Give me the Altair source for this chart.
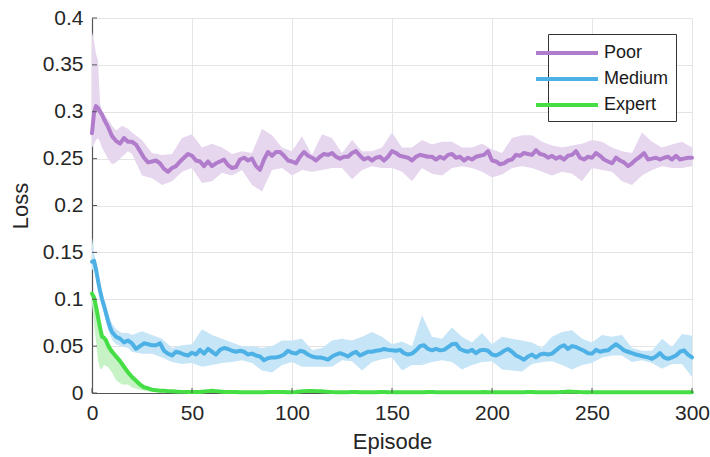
import altair as alt
import pandas as pd

# ---------------- data ----------------
EPISODES = list(range(0, 11)) + list(range(12, 301, 2))

POOR_MEAN = (
    [0.277, 0.299, 0.306, 0.304, 0.300, 0.297, 0.292, 0.288, 0.284, 0.279, 0.274]
    + [0.269, 0.266, 0.272, 0.268, 0.268, 0.265, 0.258, 0.251, 0.246, 0.247,
       0.248, 0.245, 0.239, 0.236, 0.240, 0.242, 0.247, 0.251, 0.255, 0.253,
       0.248, 0.247, 0.242, 0.247, 0.242, 0.245, 0.247, 0.249, 0.243, 0.240,
       0.241, 0.249, 0.251, 0.248, 0.250, 0.242, 0.238, 0.249, 0.257, 0.253,
       0.257, 0.257, 0.253, 0.248, 0.247]
    + [0.245, 0.252, 0.257, 0.253, 0.251, 0.248, 0.252, 0.255, 0.254, 0.256,
       0.252, 0.250, 0.252, 0.252, 0.256, 0.258, 0.253, 0.249, 0.251, 0.248,
       0.251, 0.252, 0.248, 0.252, 0.258, 0.256, 0.253, 0.252, 0.251, 0.248,
       0.252, 0.254, 0.253, 0.252, 0.252, 0.249, 0.252, 0.250, 0.254, 0.255,
       0.251, 0.252, 0.248, 0.251, 0.249, 0.252, 0.253, 0.254, 0.258, 0.248]
    + [0.247, 0.244, 0.245, 0.248, 0.249, 0.254, 0.253, 0.256, 0.255, 0.254,
       0.259, 0.255, 0.254, 0.251, 0.253, 0.250, 0.252, 0.249, 0.253, 0.254,
       0.258, 0.251, 0.249, 0.252, 0.251, 0.256, 0.253, 0.249, 0.247, 0.245,
       0.251, 0.248, 0.246, 0.242, 0.245, 0.249, 0.252, 0.256, 0.249, 0.250,
       0.251, 0.249, 0.251, 0.252, 0.249, 0.253, 0.249, 0.250, 0.251, 0.251]
)

MEDIUM_MEAN = (
    [0.140, 0.141, 0.132, 0.120, 0.109, 0.100, 0.093, 0.085, 0.077, 0.070, 0.065]
    + [0.060, 0.058, 0.054, 0.056, 0.053, 0.047, 0.050, 0.053, 0.052, 0.051,
       0.051, 0.053, 0.045, 0.042, 0.040, 0.044, 0.043, 0.041, 0.040, 0.043,
       0.041, 0.046, 0.042, 0.047, 0.044, 0.041, 0.046, 0.048, 0.047, 0.045,
       0.044, 0.045, 0.044, 0.041, 0.042, 0.040, 0.039, 0.035, 0.037, 0.038,
       0.038, 0.039, 0.041, 0.045, 0.043]
    + [0.042, 0.045, 0.044, 0.041, 0.039, 0.038, 0.038, 0.037, 0.0355, 0.039,
       0.041, 0.0425, 0.041, 0.039, 0.042, 0.044, 0.040, 0.042, 0.044, 0.044,
       0.045, 0.0455, 0.047, 0.046, 0.0455, 0.045, 0.046, 0.0425, 0.041, 0.042,
       0.0455, 0.050, 0.051, 0.047, 0.0455, 0.047, 0.0455, 0.046, 0.049, 0.052,
       0.0525, 0.047, 0.045, 0.044, 0.046, 0.0425, 0.0455, 0.046, 0.045, 0.041]
    + [0.040, 0.042, 0.045, 0.047, 0.044, 0.040, 0.038, 0.0355, 0.039, 0.041,
       0.038, 0.041, 0.042, 0.041, 0.042, 0.0455, 0.049, 0.051, 0.047, 0.050,
       0.049, 0.047, 0.045, 0.0425, 0.042, 0.046, 0.044, 0.045, 0.0455, 0.049,
       0.052, 0.049, 0.0455, 0.044, 0.0425, 0.041, 0.040, 0.039, 0.038, 0.0365,
       0.039, 0.0425, 0.038, 0.0365, 0.038, 0.040, 0.044, 0.0455, 0.041, 0.038]
)

EXPERT_MEAN = (
    [0.106, 0.102, 0.092, 0.081, 0.070, 0.060, 0.059, 0.056, 0.051, 0.047, 0.044]
    + [0.039, 0.034, 0.028, 0.022, 0.017, 0.013, 0.009, 0.006, 0.005, 0.0035,
       0.003, 0.0025, 0.0025, 0.002, 0.0018, 0.0015, 0.0013, 0.0012, 0.001, 0.001,
       0.001, 0.001, 0.0015, 0.002, 0.0025, 0.002, 0.0015, 0.001, 0.001, 0.001,
       0.001, 0.0008, 0.0008, 0.0008, 0.0008, 0.0008, 0.0008, 0.0008, 0.001, 0.001,
       0.001, 0.001, 0.001, 0.0008, 0.0008]
    + [0.001, 0.0015, 0.002, 0.0022, 0.0022, 0.002, 0.0018, 0.0015, 0.0012, 0.001,
       0.0009, 0.0008, 0.0008, 0.0009, 0.001, 0.001, 0.0009, 0.0008, 0.0008, 0.0008,
       0.0009, 0.001, 0.001, 0.0009, 0.0008, 0.0008, 0.0008, 0.0009, 0.0009, 0.0008,
       0.0008, 0.0008, 0.0009, 0.001, 0.001, 0.0009, 0.0008, 0.0008, 0.0008, 0.0008]
    + [0.0008, 0.0009, 0.0009, 0.0008, 0.0008, 0.0008, 0.0009, 0.001, 0.0009, 0.0008,
       0.0008, 0.0008, 0.0009, 0.0009, 0.0008, 0.0008, 0.0008, 0.0009, 0.001, 0.001,
       0.0009, 0.0008, 0.0008, 0.0008, 0.0008, 0.0009, 0.001, 0.0012, 0.0015, 0.0014,
       0.0012, 0.001, 0.0009, 0.0008, 0.0008, 0.0008, 0.0008, 0.0009, 0.0009, 0.0008,
       0.0008, 0.0008, 0.0008, 0.0009, 0.0009, 0.0008, 0.0008, 0.0008, 0.0009, 0.0009,
       0.0008, 0.0008, 0.0008, 0.0008, 0.0008, 0.0008, 0.0008, 0.0008, 0.0008, 0.0008]
)

BAND_EPISODES = [0, 1, 2, 3, 4, 5, 6, 8, 10, 12, 15, 18, 20] + list(range(25, 301, 5))

POOR_LO = [0.262, 0.265, 0.270, 0.272, 0.268, 0.262, 0.258, 0.250, 0.244, 0.246, 0.252, 0.258, 0.255,
           0.232, 0.229, 0.222, 0.226, 0.236, 0.240, 0.224, 0.226, 0.235, 0.232,
           0.238, 0.222, 0.215, 0.238, 0.240, 0.232, 0.238, 0.236, 0.238, 0.240,
           0.240, 0.228, 0.238, 0.242, 0.240, 0.240, 0.236, 0.226, 0.240, 0.234,
           0.232, 0.240, 0.242, 0.240, 0.236, 0.230, 0.233, 0.240, 0.242, 0.240,
           0.236, 0.232, 0.236, 0.234, 0.226, 0.240, 0.238, 0.236, 0.226, 0.222,
           0.232, 0.238, 0.242, 0.240, 0.240, 0.242]
POOR_HI = [0.385, 0.375, 0.362, 0.355, 0.310, 0.302, 0.298, 0.292, 0.285, 0.280, 0.285, 0.282, 0.278,
           0.270, 0.256, 0.254, 0.255, 0.272, 0.276, 0.262, 0.266, 0.262, 0.255,
           0.258, 0.256, 0.282, 0.275, 0.262, 0.258, 0.274, 0.254, 0.276, 0.272,
           0.256, 0.270, 0.258, 0.258, 0.262, 0.278, 0.262, 0.262, 0.270, 0.265,
           0.268, 0.268, 0.262, 0.262, 0.266, 0.260, 0.256, 0.272, 0.275, 0.275,
           0.268, 0.264, 0.262, 0.264, 0.266, 0.270, 0.268, 0.262, 0.258, 0.256,
           0.278, 0.268, 0.262, 0.265, 0.268, 0.262]

MEDIUM_LO = [0.132, 0.130, 0.125, 0.113, 0.102, 0.093, 0.085, 0.068, 0.057, 0.052, 0.050, 0.048, 0.044,
             0.042, 0.042, 0.038, 0.033, 0.031, 0.032, 0.028, 0.030, 0.032, 0.033,
             0.035, 0.032, 0.024, 0.022, 0.030, 0.033, 0.028, 0.028, 0.028, 0.028,
             0.035, 0.034, 0.024, 0.033, 0.036, 0.038, 0.024, 0.030, 0.030, 0.033,
             0.035, 0.033, 0.025, 0.030, 0.033, 0.034, 0.025, 0.024, 0.023, 0.031,
             0.033, 0.034, 0.030, 0.025, 0.030, 0.032, 0.038, 0.040, 0.040, 0.033,
             0.035, 0.032, 0.026, 0.031, 0.031, 0.017]
MEDIUM_HI = [0.166, 0.150, 0.140, 0.128, 0.117, 0.108, 0.101, 0.086, 0.074, 0.068, 0.064, 0.064, 0.062,
             0.066, 0.062, 0.058, 0.048, 0.051, 0.052, 0.068, 0.062, 0.058, 0.054,
             0.050, 0.050, 0.048, 0.050, 0.056, 0.056, 0.058, 0.046, 0.048, 0.056,
             0.058, 0.056, 0.060, 0.065, 0.060, 0.052, 0.055, 0.050, 0.083, 0.060,
             0.058, 0.070, 0.060, 0.054, 0.064, 0.052, 0.060, 0.058, 0.056, 0.054,
             0.048, 0.060, 0.065, 0.067, 0.058, 0.054, 0.062, 0.060, 0.062, 0.048,
             0.045, 0.045, 0.058, 0.049, 0.063, 0.061]

EXPERT_LO = [0.095, 0.075, 0.055, 0.035, 0.026, 0.026, 0.030, 0.028, 0.022, 0.014, 0.009, 0.009, 0.006,
             0.003, 0.001, 0.001, 0.0008, 0.0005, 0.0005, 0.0005, 0.001, 0.0005, 0.0004,
             0.0004, 0.0004, 0.0004, 0.0004, 0.0004, 0.0004, 0.0008, 0.0008, 0.0008, 0.0004,
             0.0003, 0.0003, 0.0003, 0.0003, 0.0003, 0.0003, 0.0003, 0.0003, 0.0003, 0.0003,
             0.0003, 0.0003, 0.0003, 0.0003, 0.0003, 0.0003, 0.0003, 0.0003, 0.0003, 0.0003,
             0.0003, 0.0003, 0.0003, 0.0003, 0.0003, 0.0003, 0.0003, 0.0003, 0.0005, 0.0003,
             0.0003, 0.0003, 0.0003, 0.0003, 0.0003, 0.0003]
EXPERT_HI = [0.108, 0.104, 0.096, 0.090, 0.078, 0.066, 0.062, 0.056, 0.048, 0.043, 0.035, 0.026, 0.020,
             0.010, 0.005, 0.004, 0.003, 0.002, 0.002, 0.0022, 0.004, 0.0025, 0.0018,
             0.0018, 0.0018, 0.0018, 0.0018, 0.0018, 0.0018, 0.0035, 0.0035, 0.0035, 0.0018,
             0.0016, 0.0017, 0.0016, 0.0018, 0.0017, 0.0016, 0.0016, 0.0018, 0.0016, 0.0016,
             0.0017, 0.0016, 0.0016, 0.0018, 0.0016, 0.0016, 0.0017, 0.0016, 0.0016, 0.0018,
             0.0016, 0.0016, 0.0017, 0.0016, 0.0018, 0.0016, 0.0016, 0.0017, 0.0025, 0.0016,
             0.0016, 0.0017, 0.0016, 0.0016, 0.0016, 0.0016]

SERIES = ["Poor", "Medium", "Expert"]
LINE_COLORS = ["#B07CCB", "#4DB1E6", "#45DE45"]
BAND_COLORS = ["#E6D7EF", "#C6E5F7", "#C6F2C6"]
X_TICKS = [0, 50, 100, 150, 200, 250, 300]
Y_TICKS = [0, 0.05, 0.1, 0.15, 0.2, 0.25, 0.3, 0.35, 0.4]

# ---------------- tables ----------------
means = {"Poor": POOR_MEAN, "Medium": MEDIUM_MEAN, "Expert": EXPERT_MEAN}
los = {"Poor": POOR_LO, "Medium": MEDIUM_LO, "Expert": EXPERT_LO}
his = {"Poor": POOR_HI, "Medium": MEDIUM_HI, "Expert": EXPERT_HI}

line_rows = []
for s in SERIES:
    assert len(means[s]) == len(EPISODES), s
    for e, v in zip(EPISODES, means[s]):
        line_rows.append({"episode": e, "loss": v, "series": s})
line_df = pd.DataFrame(line_rows)

W, H = 600, 375
x_scale = alt.Scale(domain=[0, 300], nice=False, zero=False)
y_scale = alt.Scale(domain=[0, 0.4], nice=False)

x_axis = alt.Axis(values=X_TICKS, title="Episode", format="d", titlePadding=8, labelFlush=False)
y_axis = alt.Axis(values=Y_TICKS, title="Loss", format="~g", titlePadding=10, labelFlush=False)

band_layers = []
for s, bc in zip(SERIES, BAND_COLORS):
    assert len(los[s]) == len(BAND_EPISODES) and len(his[s]) == len(BAND_EPISODES), s
    bdf = pd.DataFrame({"episode": BAND_EPISODES, "lo": los[s], "hi": his[s]})
    band_layers.append(
        alt.Chart(bdf).mark_area(color=bc, opacity=1, interpolate="linear").encode(
            x=alt.X("episode:Q", scale=x_scale, axis=x_axis),
            y=alt.Y("lo:Q", scale=y_scale, axis=y_axis),
            y2="hi:Q",
        )
    )

lines = alt.Chart(line_df).mark_line(strokeWidth=4, strokeJoin="round", strokeCap="round").encode(
    x=alt.X("episode:Q", scale=x_scale, axis=x_axis),
    y=alt.Y("loss:Q", scale=y_scale, axis=y_axis),
    color=alt.Color("series:N", scale=alt.Scale(domain=SERIES, range=LINE_COLORS),
                    sort=SERIES,
                    legend=alt.Legend(title=None, orient="top-right", offset=16,
                                      symbolType="M-3.1,0H3.1", symbolSize=400, symbolStrokeWidth=4,
                                      labelFontSize=18, labelFont="Liberation Sans",
                                      labelColor="#1a1a1a", strokeColor="#333333",
                                      fillColor="white", padding=7, rowPadding=5,
                                      labelOffset=25)),
    order=alt.Order("episode:Q"),
)

xticks = alt.Chart(pd.DataFrame({"episode": X_TICKS})).mark_rule(color="#555555", strokeWidth=1).encode(
    x=alt.X("episode:Q", scale=x_scale), y=alt.value(H), y2=alt.value(H - 5))
yticks = alt.Chart(pd.DataFrame({"loss": Y_TICKS})).mark_rule(color="#555555", strokeWidth=1).encode(
    y=alt.Y("loss:Q", scale=y_scale), x=alt.value(0), x2=alt.value(5))

chart = alt.layer(*band_layers, lines, xticks, yticks).properties(
    width=W, height=H,
    autosize=alt.AutoSizeParams(type="none"),
    padding={"left": 92, "top": 18, "right": 18, "bottom": 64},
).configure_view(stroke=None).configure_axis(
    grid=True, gridColor="#E4E4E4", gridWidth=1,
    domainColor="#555555", domainWidth=1.2, ticks=False,
    labelFont="Liberation Sans", labelFontSize=21, labelColor="#262626", labelPadding=9,
    titleFont="Liberation Sans", titleFontSize=22, titleColor="#262626", titleFontWeight="normal",
)

chart.save("out.html", embed_options={"renderer": "svg", "actions": False})
